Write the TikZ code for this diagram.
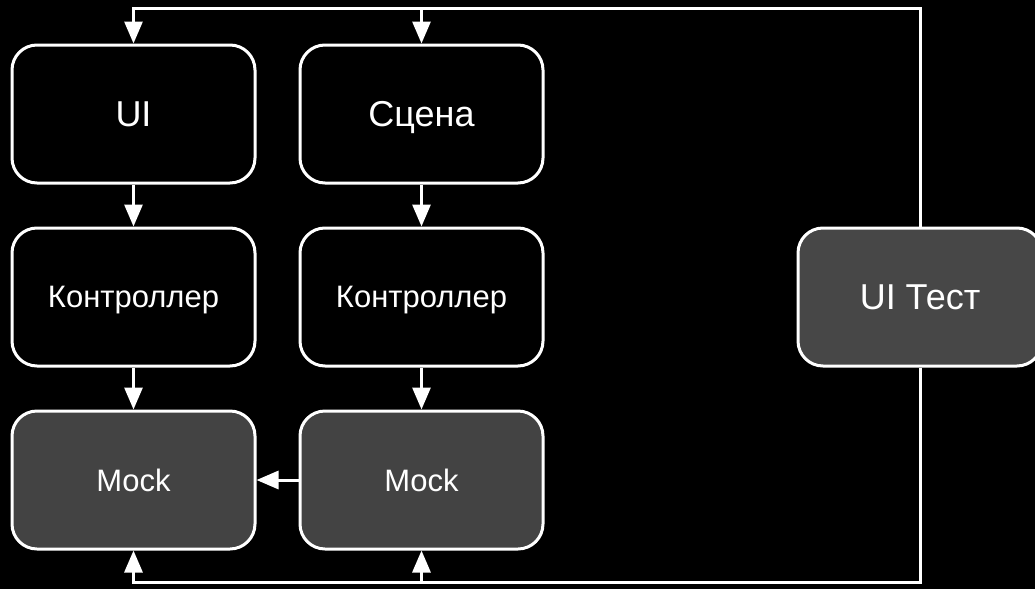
\documentclass[tikz,border=0pt]{standalone}
\usepackage{fontspec}
\setmainfont{Liberation Sans}
\usetikzlibrary{arrows.meta}
\tikzset{
  boxnode/.style={draw=white, line width=3pt, rounded corners=25pt, minimum width=243pt,
    minimum height=138pt, inner sep=0pt, text=white, text depth=0pt, align=center},
  darkbox/.style={boxnode, fill=black},
  mockbox/.style={boxnode, fill=mockgray},
  testbox/.style={boxnode, fill=testgray},
  bigtext/.style={font=\fontsize{36}{40}\selectfont},
  smalltext/.style={font=\fontsize{31}{36}\selectfont},
  conn/.style={draw=white, line width=3pt},
  arr/.style={conn, -{Triangle[length=22pt,width=18pt]}}
}
\definecolor{mockgray}{HTML}{434343}
\definecolor{testgray}{HTML}{474747}
\begin{document}
\begin{tikzpicture}[x=1pt,y=-1pt]
\useasboundingbox (0,0) rectangle (1035,589);
\clip (0,0) rectangle (1035,589);
\fill[black] (0,0) rectangle (1035,589);

\node[darkbox, bigtext] (ui) at (133.5,114) {UI};
\node[darkbox, bigtext] (scene) at (421.5,114) {Сцена};
\node[darkbox, smalltext] (ctrl1) at (133.5,297) {Контроллер};
\node[darkbox, smalltext] (ctrl2) at (421.5,297) {Контроллер};
\node[mockbox, smalltext] (mock1) at (133.5,480) {Mock};
\node[mockbox, smalltext] (mock2) at (421.5,480) {Mock};
\node[testbox, bigtext, minimum width=244pt] (uitest) at (920,297) {UI Тест};

\coordinate (topL) at (133.5,8);
\coordinate (topR) at (920,8);
\coordinate (botL) at (133.5,582);
\coordinate (botR) at (920,582);

\draw[arr] (uitest.north) -- (topR) -- (topL) -- (ui.north);
\draw[arr] (scene.north |- topL) -- (scene.north);
\draw[arr] (uitest.south) -- (botR) -- (botL) -- (mock1.south);
\draw[arr] (mock2.south |- botL) -- (mock2.south);

\draw[arr] (ui) -- (ctrl1);
\draw[arr] (ctrl1) -- (mock1);
\draw[arr] (scene) -- (ctrl2);
\draw[arr] (ctrl2) -- (mock2);
\draw[arr] (mock2) -- (mock1);
\end{tikzpicture}
\end{document}
